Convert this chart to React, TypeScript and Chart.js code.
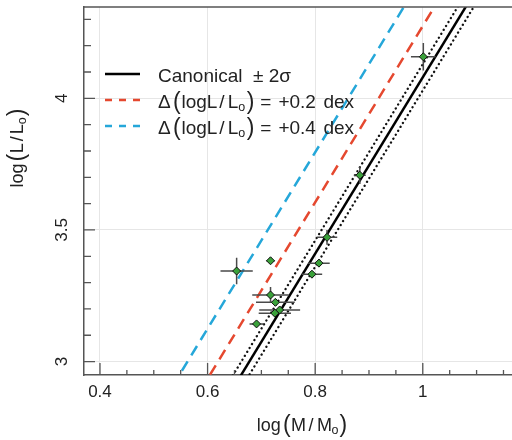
import React, { useEffect, useRef } from 'react';
import { Chart, registerables } from 'chart.js';

Chart.register(...registerables);

const FONT = '"Liberation Sans", Arial, Helvetica, sans-serif';

// Observed stars: log(M/Mo), log(L/Lo) with errors
const logMass = [0.654, 0.717, 0.822, 0.807, 0.794, 0.717, 0.726, 0.734, 0.725, 0.691, 1.001, 0.883];
const logLum = [3.344, 3.383, 3.472, 3.374, 3.332, 3.253, 3.225, 3.196, 3.184, 3.143, 4.158, 3.708];
const logMassErr = [0.030, 0.008, 0.019, 0.020, 0.019, 0.034, 0.036, 0.038, 0.030, 0.013, 0.023, 0.011];
const logLumErr = [0.050, 0.012, 0.028, 0.015, 0.012, 0.030, 0.010, 0.012, 0.010, 0.010, 0.052, 0.033];

// Mass-luminosity relations (end points)
const relationLogM = [0.5, 1.1];
const canonicalLogL = [2.405, 4.415];
const canonicalUpperLogL = [2.455, 4.465];
const canonicalLowerLogL = [2.355, 4.365];
const plus02LogL = [2.6, 4.61];
const plus04LogL = [2.79, 4.8];

// Axes
const xMajorTicks = [0.4, 0.6, 0.8, 1.0];
const xTickLabels = ['0.4', '0.6', '0.8', '1'];
const xMinorTicks = [0.45, 0.5, 0.55, 0.65, 0.7, 0.75, 0.85, 0.9, 0.95, 1.05, 1.1, 1.15];
const yMajorTicks = [3, 3.5, 4];
const yTickLabels = ['3', '3.5', '4'];
const yMinorTicks = [3.1, 3.2, 3.3, 3.4, 3.6, 3.7, 3.8, 3.9, 4.1, 4.2, 4.3];
const X_MIN = 0.3703;
const X_MAX = 1.1807;
const Y_MIN = 2.949;
const Y_MAX = 4.347;

const RED = '#e5482f';
const BLUE = '#25a7d9';
const GREEN = '#3aa13a';
const AXIS = '#555555';
const GRID = '#e6e6e6';
const TEXT = '#222222';

type Part = { t: string; size: number; dy?: number; gap?: number };

function drawParts(ctx: CanvasRenderingContext2D, parts: Part[], x: number, y: number) {
  let cx = x;
  for (const p of parts) {
    ctx.font = `${p.size}px ${FONT}`;
    ctx.fillText(p.t, cx, y + (p.dy || 0));
    cx += ctx.measureText(p.t).width + (p.gap || 0);
  }
}
function widthParts(ctx: CanvasRenderingContext2D, parts: Part[]) {
  let w = 0;
  for (const p of parts) {
    ctx.font = `${p.size}px ${FONT}`;
    w += ctx.measureText(p.t).width + (p.gap || 0);
  }
  return w;
}

const xTitle: Part[] = [
  { t: 'log', size: 18, gap: 2 },
  { t: '(', size: 23, dy: 1, gap: 0.5 },
  { t: 'M', size: 18, gap: 2.5 },
  { t: '/', size: 18, gap: 3.5 },
  { t: 'M', size: 18, gap: -0.5 },
  { t: 'o', size: 12.5, dy: 3, gap: 1 },
  { t: ')', size: 23, dy: 1 },
];
const yTitle: Part[] = [
  { t: 'log', size: 18, gap: 2 },
  { t: '(', size: 23, dy: 1, gap: 0.5 },
  { t: 'L', size: 18, gap: 2 },
  { t: '/', size: 18, gap: 2 },
  { t: 'L', size: 18, gap: 0 },
  { t: 'o', size: 12.5, dy: 3, gap: 1 },
  { t: ')', size: 23, dy: 1 },
];
const legendRow = (dex: string): Part[] => [
  { t: 'Δ', size: 19, gap: 2.3 },
  { t: '(', size: 23, dy: 1, gap: 0.8 },
  { t: 'logL', size: 19, gap: 2 },
  { t: '/', size: 19, gap: 3 },
  { t: 'L', size: 19, gap: 0 },
  { t: 'o', size: 12.5, dy: 3, gap: 1.5 },
  { t: ')', size: 23, dy: 1, gap: 6 },
  { t: '=', size: 19, gap: 7 },
  { t: '+' + dex, size: 19, gap: 7.5 },
  { t: 'dex', size: 19 },
];

const decorPlugin = {
  id: 'decor',
  beforeDatasetDraw(chart: any, args: any) {
    if (args.index !== 0) return;
    const { ctx, scales } = chart;
    const x = scales.x, y = scales.y;
    ctx.save();
    ctx.strokeStyle = '#4a4a4a';
    ctx.lineWidth = 1.5;
    logMass.forEach((m, i) => {
      const l = logLum[i];
      const px = x.getPixelForValue(m), py = y.getPixelForValue(l);
      ctx.beginPath();
      ctx.moveTo(x.getPixelForValue(m - logMassErr[i]), py);
      ctx.lineTo(x.getPixelForValue(m + logMassErr[i]), py);
      ctx.moveTo(px, y.getPixelForValue(l - logLumErr[i]));
      ctx.lineTo(px, y.getPixelForValue(l + logLumErr[i]));
      ctx.stroke();
    });
    ctx.restore();
  },
  afterDraw(chart: any) {
    const { ctx, chartArea: a, scales } = chart;
    const x = scales.x, y = scales.y;
    ctx.save();
    ctx.strokeStyle = AXIS;
    ctx.lineWidth = 1.5;
    ctx.beginPath();
    ctx.moveTo(a.left, a.top);
    ctx.lineTo(a.right, a.top);
    ctx.stroke();
    ctx.lineWidth = 1.3;
    ctx.beginPath();
    xMajorTicks.forEach(v => { const p = x.getPixelForValue(v); ctx.moveTo(p, a.bottom); ctx.lineTo(p, a.bottom - 12); });
    xMinorTicks.forEach(v => { const p = x.getPixelForValue(v); ctx.moveTo(p, a.bottom); ctx.lineTo(p, a.bottom - 5); });
    yMajorTicks.forEach(v => { const p = y.getPixelForValue(v); ctx.moveTo(a.left, p); ctx.lineTo(a.left + 11, p); });
    yMinorTicks.forEach(v => { const p = y.getPixelForValue(v); ctx.moveTo(a.left, p); ctx.lineTo(a.left + 7, p); });
    ctx.stroke();

    ctx.fillStyle = TEXT;
    ctx.textBaseline = 'alphabetic';
    ctx.font = `17px ${FONT}`;
    ctx.textAlign = 'center';
    xMajorTicks.forEach((v, i) => ctx.fillText(xTickLabels[i], x.getPixelForValue(v), a.bottom + 22));
    yMajorTicks.forEach((v, i) => {
      ctx.save();
      ctx.translate(a.left - 17, y.getPixelForValue(v));
      ctx.rotate(-Math.PI / 2);
      ctx.fillText(yTickLabels[i], 0, 0);
      ctx.restore();
    });
    ctx.textAlign = 'left';
    const xw = widthParts(ctx, xTitle);
    drawParts(ctx, xTitle, 302 - xw / 2, a.bottom + 56);
    const yw = widthParts(ctx, yTitle);
    ctx.save();
    ctx.translate(23, 148);
    ctx.rotate(-Math.PI / 2);
    drawParts(ctx, yTitle, -yw / 2, 0);
    ctx.restore();

    const lx0 = 105, lx1 = 140, tx = 158;
    const rows = [82, 108, 134];
    ctx.lineWidth = 2.5;
    ctx.strokeStyle = '#000';
    ctx.setLineDash([]);
    ctx.beginPath(); ctx.moveTo(lx0, rows[0] - 8); ctx.lineTo(lx1, rows[0] - 8); ctx.stroke();
    ctx.setLineDash([7, 7]);
    ctx.strokeStyle = RED;
    ctx.beginPath(); ctx.moveTo(lx0, rows[1] - 8); ctx.lineTo(lx1, rows[1] - 8); ctx.stroke();
    ctx.strokeStyle = BLUE;
    ctx.beginPath(); ctx.moveTo(lx0, rows[2] - 8); ctx.lineTo(lx1, rows[2] - 8); ctx.stroke();
    ctx.setLineDash([]);
    ctx.fillStyle = TEXT;
    ctx.font = `19px ${FONT}`;
    ctx.fillText('Canonical  ± 2σ', tx, rows[0]);
    drawParts(ctx, legendRow('0.2'), tx, rows[1]);
    drawParts(ctx, legendRow('0.4'), tx, rows[2]);
    ctx.restore();
  },
};

export default function App() {
  const ref = useRef<HTMLCanvasElement>(null);
  useEffect(() => {
    const canvas = ref.current;
    if (!canvas) return;
    const pts = (xs: number[], ys: number[]) => xs.map((v, i) => ({ x: v, y: ys[i] }));
    const lineDs = (label: string, ys: number[], color: string, width: number, dash: number[], cap: any, order: number) => ({
      label,
      data: pts(relationLogM, ys),
      showLine: true,
      borderColor: color,
      backgroundColor: color,
      borderWidth: width,
      borderDash: dash,
      borderCapStyle: cap,
      pointRadius: 0,
      order,
    });
    const chart = new Chart(canvas, {
      type: 'scatter',
      data: {
        datasets: [
          {
            label: 'Stars',
            data: pts(logMass, logLum),
            pointStyle: 'rectRot',
            pointRadius: 4,
            backgroundColor: GREEN,
            borderColor: '#111',
            borderWidth: 1,
            order: 0,
          } as any,
          lineDs('Canonical', canonicalLogL, '#000', 2.5, [], 'butt', 1),
          lineDs('+2σ', canonicalUpperLogL, '#111', 2.3, [0.1, 4.5], 'round', 2),
          lineDs('-2σ', canonicalLowerLogL, '#111', 2.3, [0.1, 4.5], 'round', 3),
          lineDs('+0.2 dex', plus02LogL, RED, 2.5, [11, 7], 'butt', 4),
          lineDs('+0.4 dex', plus04LogL, BLUE, 2.5, [11, 7], 'butt', 5),
        ],
      },
      options: {
        animation: false,
        responsive: false,
        events: [],
        layout: { autoPadding: false, padding: { top: 7, left: 0, right: 0, bottom: 0 } },
        plugins: { legend: { display: false }, tooltip: { enabled: false } },
        scales: {
          x: {
            type: 'linear',
            min: X_MIN,
            max: X_MAX,
            afterBuildTicks: (s: any) => { s.ticks = xMajorTicks.map(v => ({ value: v })); },
            afterFit: (s: any) => { s.height = 65; },
            ticks: { display: false },
            grid: { color: GRID, drawTicks: false, lineWidth: 1 },
            border: { color: AXIS, width: 1.5 },
          },
          y: {
            type: 'linear',
            min: Y_MIN,
            max: Y_MAX,
            afterBuildTicks: (s: any) => { s.ticks = yMajorTicks.map(v => ({ value: v })); },
            afterFit: (s: any) => { s.width = 84; },
            ticks: { display: false },
            grid: { color: GRID, drawTicks: false, lineWidth: 1 },
            border: { color: AXIS, width: 1.5 },
          },
        },
      },
      plugins: [decorPlugin],
    });
    return () => chart.destroy();
  }, []);
  return (
    <div style={{ position: 'fixed', left: 0, top: 0, width: 512, height: 440, overflow: 'hidden', background: '#fff' }}>
      <canvas ref={ref} width={520} height={440} style={{ display: 'block' }} />
    </div>
  );
}
